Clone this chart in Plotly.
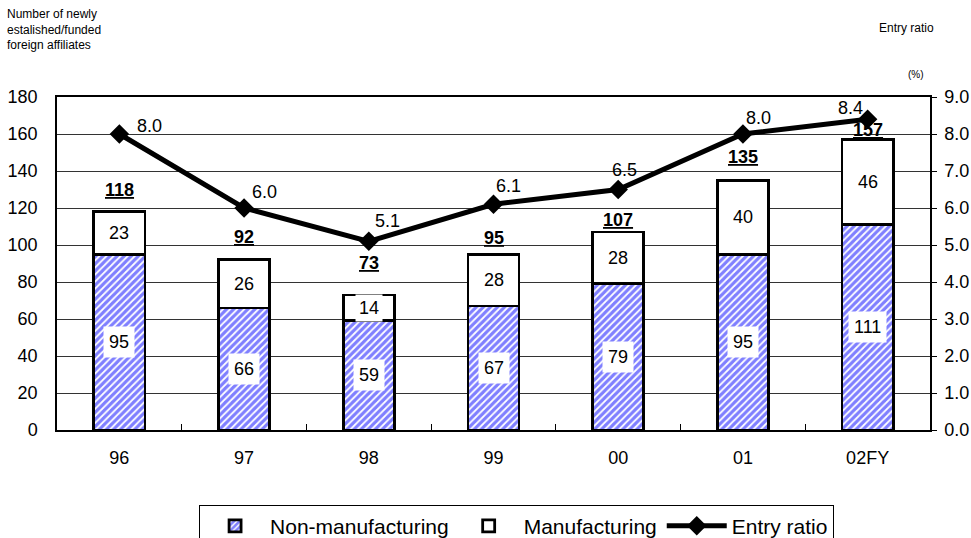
import plotly.graph_objects as go

categories = ["96", "97", "98", "99", "00", "01", "02FY"]
non_manufacturing = [95, 66, 59, 67, 79, 95, 111]
manufacturing = [23, 26, 14, 28, 28, 40, 46]
totals = [118, 92, 73, 95, 107, 135, 157]
entry_ratio = [8.0, 6.0, 5.1, 6.1, 6.5, 8.0, 8.4]

# label placement styles (pixel offsets)
total_yshift = [22, 23, 32, 16, 12, 23, 10]
ratio_xshift = [30, 20, 19, 15, 6, 16, -17]
ratio_yshift = [8, 16, 20, 18, 20, 16, 11]

FONT = "Liberation Sans, Arial, sans-serif"

# plot area in pixels (for converting header text positions)
L, R, T, B = 57, 930, 97, 430


def px(xp):
    return (xp - L) / (R - L)


def py(yp):
    return (B - yp) / (B - T)


fig = go.Figure()
fig.add_trace(go.Bar(
    x=categories, y=non_manufacturing, name="Non-manufacturing",
    marker=dict(color="white", line=dict(color="black", width=2.8),
                pattern=dict(shape="/", fgcolor="#0000FF", bgcolor="white",
                             size=5, solidity=0.65)),
    width=0.41, yaxis="y",
))
fig.add_trace(go.Bar(
    x=categories, y=manufacturing, name="Manufacturing",
    marker=dict(color="white", line=dict(color="black", width=2.8)),
    width=0.41, yaxis="y",
))
fig.add_trace(go.Scatter(
    x=categories, y=entry_ratio, name="Entry ratio", yaxis="y2",
    mode="lines+markers",
    line=dict(color="black", width=5),
    marker=dict(symbol="diamond", size=15, color="black"),
))

ann = []
for i, c in enumerate(categories):
    ann.append(dict(x=i, y=non_manufacturing[i] / 2, xref="x", yref="y",
                    text=str(non_manufacturing[i]), showarrow=False,
                    bgcolor="white", borderpad=5,
                    font=dict(size=18, color="black", family=FONT)))
    ann.append(dict(x=i, y=non_manufacturing[i] + manufacturing[i] / 2,
                    xref="x", yref="y", text=str(manufacturing[i]),
                    showarrow=False, bgcolor="white", borderpad=3,
                    font=dict(size=18, color="black", family=FONT)))
    ann.append(dict(x=i, y=totals[i], xref="x", yref="y",
                    text="<b><u>%d</u></b>" % totals[i], showarrow=False,
                    yanchor="middle", yshift=total_yshift[i],
                    font=dict(size=18, color="black", family=FONT)))
    ann.append(dict(x=i, y=entry_ratio[i], xref="x", yref="y2",
                    text="%.1f" % entry_ratio[i], showarrow=False,
                    xshift=ratio_xshift[i], yshift=ratio_yshift[i],
                    font=dict(size=18, color="black", family=FONT)))

ann.append(dict(xref="paper", yref="paper", x=px(5), y=py(5),
                xanchor="left", yanchor="top",
                text="Number of newly<br>estalished/funded<br>foreign affiliates",
                showarrow=False, align="left",
                font=dict(size=12, color="black", family=FONT)))
ann.append(dict(xref="paper", yref="paper", x=px(936), y=py(28),
                xanchor="right", yanchor="middle", text="Entry ratio",
                showarrow=False, font=dict(size=12, color="black", family=FONT)))
ann.append(dict(xref="paper", yref="paper", x=px(926), y=py(75),
                xanchor="right", yanchor="middle", text="(%)",
                showarrow=False, font=dict(size=10, color="black", family=FONT)))

fig.update_layout(
    width=971, height=538,
    margin=dict(l=L, r=971 - R, t=T, b=538 - B),
    paper_bgcolor="white", plot_bgcolor="white",
    barmode="stack",
    font=dict(family=FONT, color="black", size=18),
    showlegend=True,
    legend=dict(orientation="h", xref="container", yref="container",
                x=0.532, xanchor="center", y=0.062, yanchor="top",
                bordercolor="black", borderwidth=1,
                font=dict(size=21, color="black", family=FONT),
                itemwidth=60, traceorder="normal"),
    xaxis=dict(type="category", range=[-0.5, 6.5], showline=True,
               linecolor="black", linewidth=2, tickangle=0, automargin=False,
               mirror=True, ticks="inside", ticklen=6, tickcolor="black",
               tickson="boundaries", tickfont=dict(size=18), showgrid=False,
               ticklabelstandoff=10),
    yaxis=dict(range=[0, 180], dtick=20, showgrid=True, gridcolor="#333333",
               gridwidth=1, showline=True, linecolor="black", linewidth=1.5,
               ticks="", tickfont=dict(size=18), zeroline=False,
               ticklabelstandoff=14, automargin=False),
    yaxis2=dict(range=[0, 9], dtick=1, tickformat=".1f", overlaying="y",
                side="right", showgrid=False, showline=True, linecolor="black",
                linewidth=1.5, ticks="outside", ticklen=5, tickcolor="black",
                tickfont=dict(size=18), zeroline=False, ticklabelstandoff=4,
                automargin=False),
    annotations=ann,
)

fig.write_html("out.html")
